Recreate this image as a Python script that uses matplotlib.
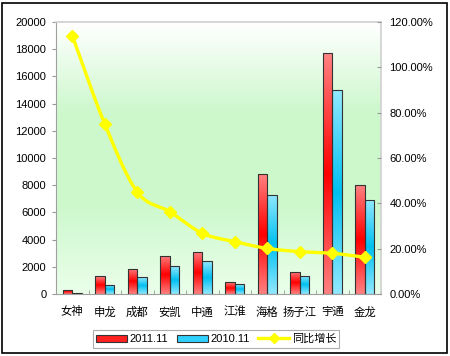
import numpy as np
import matplotlib.pyplot as plt
from matplotlib.colors import LinearSegmentedColormap
from matplotlib.patches import Patch, Rectangle
from matplotlib.lines import Line2D

plt.rcParams['font.family'] = ['Liberation Sans', 'Noto Sans CJK SC', 'DejaVu Sans']

brands = ['女神', '申龙', '成都', '安凯', '中通', '江淮', '海格', '扬子江', '宇通', '金龙']
sales_2011 = [300, 1300, 1850, 2800, 3100, 880, 8800, 1650, 17700, 8000]
sales_2010 = [110, 680, 1250, 2050, 2400, 730, 7300, 1350, 15000, 6900]
growth = [114, 75, 45, 36.3, 26.8, 23.1, 20.1, 18.7, 18.0, 16.2]  # percent

label_2011 = '2011.11'
label_2010 = '2010.11'
label_growth = '同比增长'


def catmull(xs, ys, n=20):
    # smooth line through the points, like the excel "smoothed line" option
    xs = np.asarray(xs, float)
    ys = np.asarray(ys, float)
    px = np.concatenate([[2 * xs[0] - xs[1]], xs, [2 * xs[-1] - xs[-2]]])
    py = np.concatenate([[2 * ys[0] - ys[1]], ys, [2 * ys[-1] - ys[-2]]])
    ox, oy = [], []
    t = np.linspace(0, 1, n, endpoint=False)
    for i in range(1, len(px) - 2):
        for p, o in ((px, ox), (py, oy)):
            p0, p1, p2, p3 = p[i - 1], p[i], p[i + 1], p[i + 2]
            o.extend(0.5 * (2 * p1 + (-p0 + p2) * t + (2 * p0 - 5 * p1 + 4 * p2 - p3) * t**2
                            + (-p0 + 3 * p1 - 3 * p2 + p3) * t**3))
    ox.append(xs[-1])
    oy.append(ys[-1])
    return np.array(ox), np.array(oy)


def gradient_bars(ax, bars, cmap):
    grad = np.linspace(0, 1, 64).reshape(-1, 1)
    for b in bars:
        x0, y0 = b.get_x(), b.get_y()
        w, h = b.get_width(), b.get_height()
        im = ax.imshow(grad, cmap=cmap, aspect='auto', extent=(x0, x0 + w, y0, y0 + h),
                       origin='lower', zorder=2, interpolation='bilinear')
        im.set_clip_path(b)


fig = plt.figure(figsize=(4.5, 3.56), dpi=100)
fig.patch.set_facecolor('white')
fig.add_artist(Rectangle((2 / 450, 3 / 356), 445 / 450, 350 / 356, transform=fig.transFigure,
                         fill=False, edgecolor='black', linewidth=1.2))

ax = fig.add_axes([56 / 450, 62 / 356, 325 / 450, 272 / 356])
x = np.arange(len(brands))

# background gradient of the plot area
bg = LinearSegmentedColormap.from_list('bg', ['#eaffea', '#ccf8cc', '#ccf8cc', '#ffffff'])
ax.imshow(np.linspace(0, 1, 100).reshape(-1, 1), cmap=bg, aspect='auto',
          extent=(-0.5, len(brands) - 0.5, 0, 20000), origin='lower', zorder=0)

w = 0.29
red_cmap = LinearSegmentedColormap.from_list('r', ['#ff8080', '#ff0000', '#ff8080'])
blue_cmap = LinearSegmentedColormap.from_list('b', ['#90e8ff', '#00c0f0', '#90e8ff'])
b1 = ax.bar(x - w / 2, sales_2011, w, facecolor='#ff3030', edgecolor='#333333', linewidth=0.8, zorder=3)
b2 = ax.bar(x + w / 2, sales_2010, w, facecolor='#40d0ff', edgecolor='#333333', linewidth=0.8, zorder=3)
for bars in (b1, b2):
    for b in bars:
        b.set_facecolor('none')
gradient_bars(ax, b1, red_cmap)
gradient_bars(ax, b2, blue_cmap)

ax.set_xlim(-0.5, len(brands) - 0.5)
ax.set_ylim(0, 20000)
ax.set_yticks(np.arange(0, 20001, 2000))
ax.set_xticks(x)
ax.set_xticklabels(brands, fontsize=8.2)
ax.set_xticks(np.arange(-0.5, len(brands), 1), minor=True)
ax.tick_params(axis='x', which='major', length=0, pad=9)
ax.tick_params(axis='x', which='minor', length=3, color='#999999', direction='in')
ax.tick_params(axis='y', labelsize=8, length=3, color='#999999', pad=4)
for s in ('top', 'right'):
    ax.spines[s].set_color('#d0d0d0')
    ax.spines[s].set_linewidth(1.2)
for s in ('left', 'bottom'):
    ax.spines[s].set_color('#a0a0a0')

ax2 = ax.twinx()
sx, sy = catmull(x, growth)
ax2.plot(sx, sy, color='#ffff00', linewidth=2.4, zorder=5)
ax2.plot(x, growth, linestyle='none', marker='D', markersize=6.5, color='#ffff00', zorder=6)
ax2.set_ylim(0, 120)
ax2.set_yticks(np.arange(0, 121, 20))
ax2.set_yticklabels([f'{v:.2f}%' for v in np.arange(0, 121, 20)])
ax2.tick_params(axis='y', labelsize=8, length=3, color='#999999', direction='in', pad=6)
for s in ax2.spines.values():
    s.set_visible(False)

handles = [Patch(facecolor='#ff2020', edgecolor='#333333', linewidth=0.8),
           Patch(facecolor='#30d0ff', edgecolor='#333333', linewidth=0.8),
           Line2D([], [], color='#ffff00', linewidth=2.4, marker='D', markersize=5)]
leg = fig.legend(handles, [label_2011, label_2010, label_growth], loc='center',
                 bbox_to_anchor=(216 / 450, 17 / 356), ncol=3, fontsize=8, frameon=True,
                 fancybox=False, edgecolor='#999999', handlelength=2.8, handletextpad=0.2,
                 columnspacing=0.8, borderpad=0.3, handleheight=0.6)
leg.get_frame().set_linewidth(0.8)

fig.savefig('out.png', dpi=100)
